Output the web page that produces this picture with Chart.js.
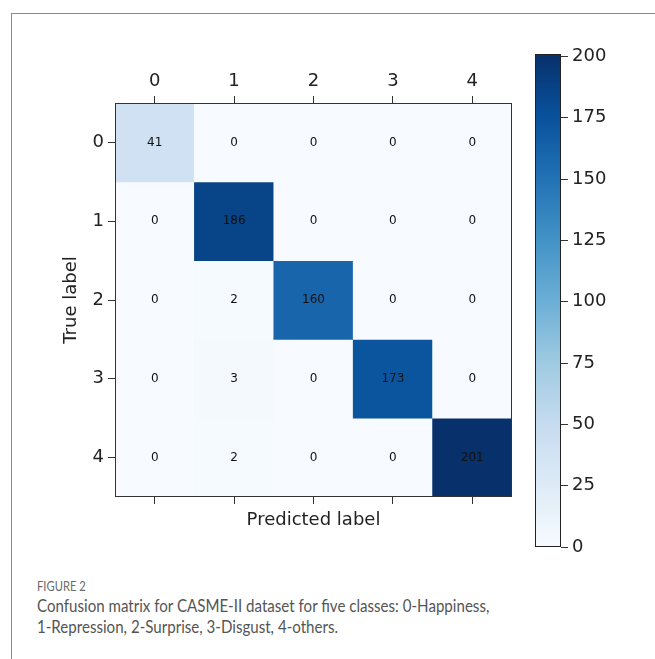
<!DOCTYPE html>
<html>
<head>
<meta charset="utf-8">
<script src="https://cdn.jsdelivr.net/npm/chart.js@4"></script>
<style>
  body { margin: 0; background: #fff; width: 655px; height: 659px; position: relative; overflow: hidden; }
  #frame { position: absolute; left: 11px; top: 13px; right: -5px; bottom: -5px; border-top: 1px solid #8a8a8a; border-left: 1px solid #8a8a8a; }
  #matrix { position: absolute; left: 0; top: 0; }
  #colorbar { position: absolute; left: 500px; top: 0; }
  .cap { position: absolute; left: 37px; font-family: Lato, sans-serif; color: #555; transform-origin: left top; white-space: nowrap; }
  #figno { top: 577px; font-size: 14px; color: #6a6a6a; transform: scaleX(0.8); }
  #captext { top: 595px; font-size: 17px; line-height: 21px; transform: scaleX(0.888); }
</style>
</head>
<body>
<div id="frame"></div>
<canvas id="matrix" width="530" height="540"></canvas>
<canvas id="colorbar" width="155" height="600"></canvas>
<div class="cap" id="figno">FIGURE 2</div>
<div class="cap" id="captext">Confusion matrix for CASME-II dataset for five classes: 0-Happiness,<br>1-Repression, 2-Surprise, 3-Disgust, 4-others.</div>
<script>
const classLabels = ['0', '1', '2', '3', '4'];
// rows = true label, columns = predicted label
const trueRow0 = [41, 0, 0, 0, 0];
const trueRow1 = [0, 186, 0, 0, 0];
const trueRow2 = [0, 2, 160, 0, 0];
const trueRow3 = [0, 3, 0, 173, 0];
const trueRow4 = [0, 2, 0, 0, 201];
const colorbarTicks = [0, 25, 50, 75, 100, 125, 150, 175, 200];
const vmax = 201;

const rows = [trueRow0, trueRow1, trueRow2, trueRow3, trueRow4];

// matplotlib "Blues"
const blues = ['#f7fbff', '#deebf7', '#c6dbef', '#9ecae1', '#6baed6', '#4292c6', '#2171b5', '#08519c', '#08306b'];
function hexRgb(h) { return [1, 3, 5].map(i => parseInt(h.substr(i, 2), 16)); }
function bluesAt(t) {
  t = Math.max(0, Math.min(1, t));
  const pos = t * (blues.length - 1);
  const i = Math.min(Math.floor(pos), blues.length - 2);
  const f = pos - i;
  const a = hexRgb(blues[i]), b = hexRgb(blues[i + 1]);
  const c = a.map((v, k) => Math.round(v + (b[k] - v) * f));
  return 'rgb(' + c.join(',') + ')';
}

const font = { family: 'DejaVu Sans', size: 18 };
const tickColor = '#333';

const datasets = rows.map((row, i) => ({
  data: row.map(() => [i - 0.5, i + 0.5]),
  backgroundColor: row.map(v => bluesAt(v / vmax)),
  borderWidth: 0,
  barPercentage: 1,
  categoryPercentage: 1,
  grouped: false
}));

const cellText = {
  id: 'cellText',
  afterDatasetsDraw(chart) {
    const { ctx, scales } = chart;
    ctx.save();
    ctx.font = '12px "DejaVu Sans"';
    ctx.fillStyle = '#111';
    ctx.textAlign = 'center';
    ctx.textBaseline = 'middle';
    rows.forEach((row, i) => {
      row.forEach((v, j) => {
        ctx.fillText(String(v), scales.x.getPixelForValue(j), scales.y.getPixelForValue(i));
      });
    });
    const a = chart.chartArea;
    ctx.strokeStyle = '#333';
    ctx.lineWidth = 1;
    ctx.strokeRect(Math.round(a.left) + 0.5, Math.round(a.top) + 0.5, Math.round(a.right - a.left) - 1, Math.round(a.bottom - a.top) - 1);
    ctx.restore();
  }
};

new Chart(document.getElementById('matrix'), {
  type: 'bar',
  data: { labels: classLabels, datasets: datasets },
  options: {
    responsive: false,
    animation: false,
    events: [],
    layout: { padding: { left: 0, right: 18, top: 0, bottom: 0 } },
    plugins: { legend: { display: false }, tooltip: { enabled: false } },
    scales: {
      x: {
        type: 'category', position: 'top', offset: true,
        grid: { offset: false, drawOnChartArea: false, tickLength: 7, tickColor: tickColor },
        border: { display: false },
        ticks: { font: font, color: '#222', padding: 4, maxRotation: 0 },
        afterFit(s) { s.height = 103; }
      },
      x2: {
        type: 'category', position: 'bottom', offset: true,
        grid: { offset: false, drawOnChartArea: false, tickLength: 7, tickColor: tickColor },
        border: { display: false },
        ticks: { callback: () => '', font: font },
        title: { display: true, text: 'Predicted label', font: font, color: '#222', padding: { top: 0, bottom: 9 } },
        afterFit(s) { s.height = 43; }
      },
      y: {
        type: 'linear', reverse: true, min: -0.5, max: 4.5,
        grid: { drawOnChartArea: false, tickLength: 7, tickColor: tickColor },
        border: { display: false },
        afterBuildTicks(s) { s.ticks = classLabels.map((l, i) => ({ value: i })); },
        ticks: { font: font, color: '#222', padding: 4, callback: v => classLabels[v] },
        title: { display: true, text: 'True label', font: font, color: '#222', padding: { top: 61, bottom: 0 } },
        afterFit(s) { s.width = 115; }
      }
    }
  },
  plugins: [cellText]
});

const barFrame = {
  id: 'barFrame',
  afterDatasetsDraw(chart) {
    const { ctx } = chart;
    const a = chart.chartArea;
    ctx.save();
    ctx.strokeStyle = '#222';
    ctx.lineWidth = 1;
    ctx.strokeRect(Math.round(a.left) + 0.5, Math.round(a.top) + 0.5, Math.round(a.right - a.left) - 1, Math.round(a.bottom - a.top) - 1);
    ctx.restore();
  }
};

new Chart(document.getElementById('colorbar'), {
  type: 'bar',
  data: {
    labels: [''],
    datasets: [{
      data: [[0, vmax]],
      borderWidth: 0,
      barPercentage: 1,
      categoryPercentage: 1,
      backgroundColor(c) {
        const a = c.chart.chartArea;
        if (!a) return blues[4];
        const g = c.chart.ctx.createLinearGradient(0, a.bottom, 0, a.top);
        blues.forEach((col, i) => g.addColorStop(i / (blues.length - 1), col));
        return g;
      }
    }]
  },
  options: {
    responsive: false,
    animation: false,
    events: [],
    layout: { padding: { left: 35, right: 0, top: 54, bottom: 53 } },
    plugins: { legend: { display: false }, tooltip: { enabled: false } },
    scales: {
      x: { display: false },
      y: {
        position: 'right', min: 0, max: vmax,
        grid: { drawOnChartArea: false, tickLength: 7, tickColor: tickColor },
        border: { display: false },
        afterBuildTicks(s) { s.ticks = colorbarTicks.map(v => ({ value: v })); },
        ticks: { font: font, color: '#222', padding: 4 },
        afterFit(s) { s.width = 94; }
      }
    }
  },
  plugins: [barFrame]
});
</script>
</body>
</html>
